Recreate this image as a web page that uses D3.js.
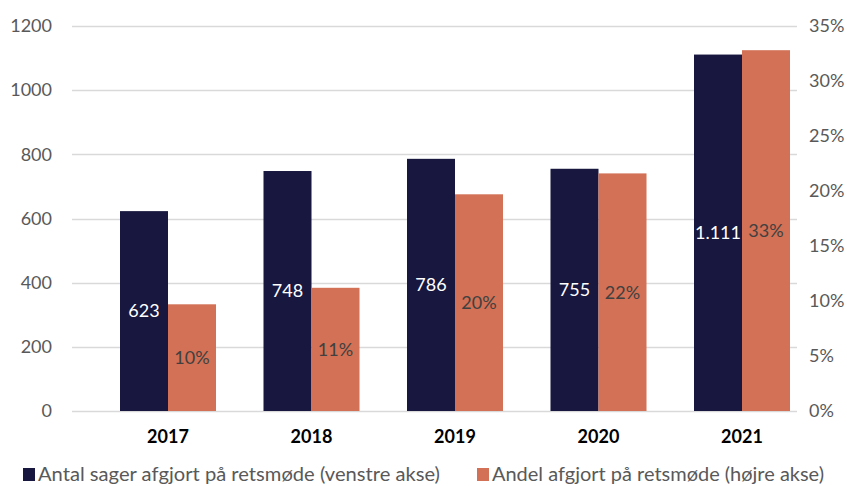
<!DOCTYPE html>
<html>
<head>
<meta charset="utf-8">
<script src="https://cdn.jsdelivr.net/npm/d3@7"></script>
<style>
  body { margin: 0; background: #fff; }
  text { font-family: Lato, "Open Sans", sans-serif; }
</style>
</head>
<body>
<div id="chart"></div>
<script>
var years = ["2017", "2018", "2019", "2020", "2021"];
var antal = [623, 748, 786, 755, 1111];
var antalLabels = ["623", "748", "786", "755", "1.111"];
var andel = [0.097, 0.112, 0.197, 0.216, 0.328];
var andelLabels = ["10%", "11%", "20%", "22%", "33%"];
var leftTicks = [0, 200, 400, 600, 800, 1000, 1200];
var rightTicks = [0, 0.05, 0.10, 0.15, 0.20, 0.25, 0.30, 0.35];
var seriesNames = ["Antal sager afgjort på retsmøde (venstre akse)", "Andel afgjort på retsmøde (højre akse)"];

var width = 847, height = 486;
var navy = "#17173f", orange = "#d27155";

var svg = d3.select("#chart").append("svg")
    .attr("width", width)
    .attr("height", height);

var yL = d3.scaleLinear().domain([0, 1200]).range([411, 26]);
var yR = d3.scaleLinear().domain([0, 0.35]).range([411, 26]);
var x = d3.scaleBand().domain(years).range([96.25, 813.75]).paddingInner(0.331).paddingOuter(0.1655);
var bw = x.bandwidth() / 2;

// gridlines
svg.append("g").selectAll("line").data(leftTicks).enter().append("line")
    .attr("x1", 72).attr("x2", 797)
    .attr("y1", function(d) { return Math.round(yL(d)) + 0.5; })
    .attr("y2", function(d) { return Math.round(yL(d)) + 0.5; })
    .attr("stroke", "#d9d9d9").attr("stroke-width", 1.3);

// left axis labels
svg.append("g").selectAll("text").data(leftTicks).enter().append("text")
    .attr("x", 52).attr("y", function(d) { return yL(d); })
    .attr("dy", "0.35em").attr("text-anchor", "end")
    .attr("font-size", 18).attr("fill", "#595959")
    .text(function(d) { return d; });

// right axis labels
svg.append("g").selectAll("text").data(rightTicks).enter().append("text")
    .attr("x", 809).attr("y", function(d) { return yR(d); })
    .attr("dy", "0.35em").attr("text-anchor", "start")
    .attr("font-size", 18).attr("fill", "#595959")
    .text(function(d) { return Math.round(d * 100) + "%"; });

// bars
svg.append("g").selectAll("rect").data(years).enter().append("rect")
    .attr("x", function(d) { return x(d); })
    .attr("y", function(d, i) { return yL(antal[i]); })
    .attr("width", bw)
    .attr("height", function(d, i) { return yL(0) - yL(antal[i]); })
    .attr("fill", navy);

svg.append("g").selectAll("rect").data(years).enter().append("rect")
    .attr("x", function(d) { return x(d) + bw; })
    .attr("y", function(d, i) { return yR(andel[i]); })
    .attr("width", bw)
    .attr("height", function(d, i) { return yR(0) - yR(andel[i]); })
    .attr("fill", orange);

// data labels
svg.append("g").selectAll("text").data(years).enter().append("text")
    .attr("x", function(d) { return x(d) + bw / 2; })
    .attr("y", function(d, i) { return (yL(antal[i]) + yL(0)) / 2; })
    .attr("dy", "0.35em").attr("text-anchor", "middle")
    .attr("font-size", 18).attr("fill", "#ffffff")
    .text(function(d, i) { return antalLabels[i]; });

svg.append("g").selectAll("text").data(years).enter().append("text")
    .attr("x", function(d) { return x(d) + bw * 1.5; })
    .attr("y", function(d, i) { return (yR(andel[i]) + yR(0)) / 2; })
    .attr("dy", "0.35em").attr("text-anchor", "middle")
    .attr("font-size", 18).attr("fill", "#404040")
    .text(function(d, i) { return andelLabels[i]; });

// category labels
svg.append("g").selectAll("text").data(years).enter().append("text")
    .attr("x", function(d) { return x(d) + bw; })
    .attr("y", 437)
    .attr("dy", "0.35em").attr("text-anchor", "middle")
    .attr("font-size", 18).attr("font-weight", "bold").attr("fill", "#000")
    .text(function(d) { return d; });

// legend
var legX = [23, 477];
var legW = [402, 332];
var leg = svg.append("g").selectAll("g").data(seriesNames).enter().append("g")
    .attr("transform", function(d, i) { return "translate(" + legX[i] + ",475)"; });
leg.append("rect").attr("x", 0).attr("y", -7).attr("width", 12).attr("height", 13)
    .attr("fill", function(d, i) { return i === 0 ? navy : orange; });
leg.append("text").attr("x", 15).attr("y", 0).attr("dy", "0.35em")
    .attr("font-size", 18.5).attr("fill", "#595959")
    .attr("textLength", function(d, i) { return legW[i]; })
    .attr("lengthAdjust", "spacingAndGlyphs")
    .text(function(d) { return d; });
</script>
</body>
</html>
